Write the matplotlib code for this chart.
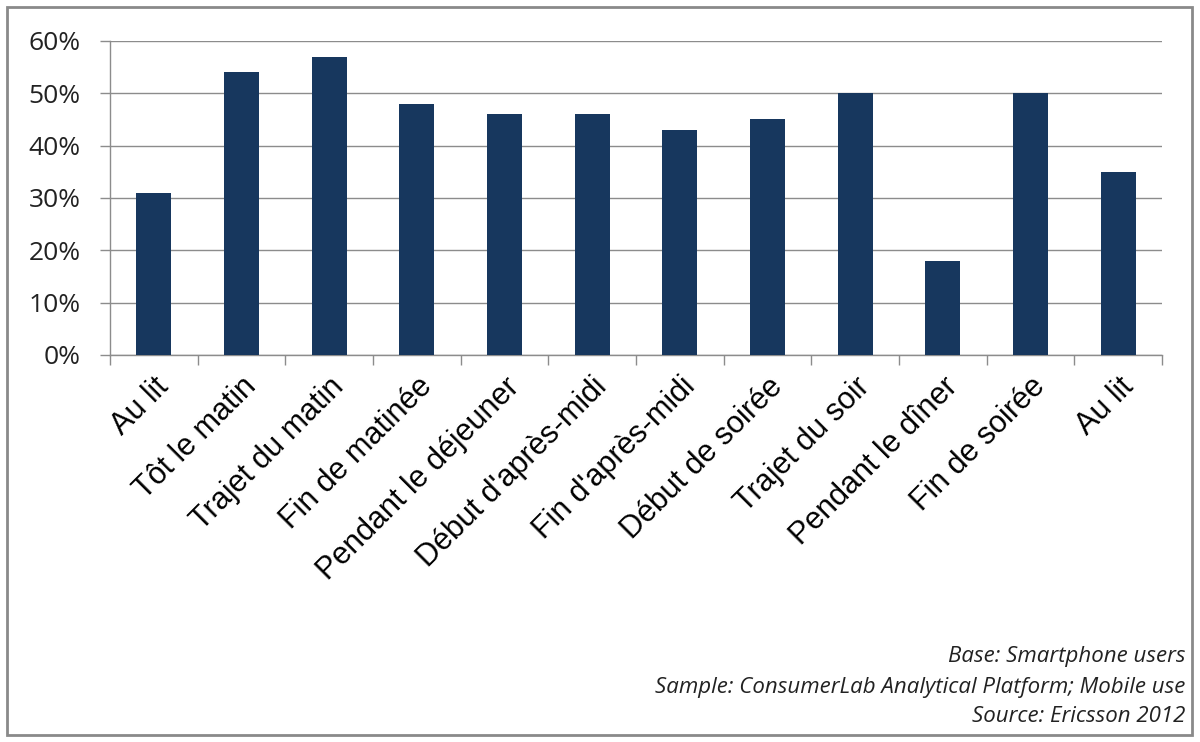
import matplotlib.pyplot as plt
from matplotlib.patches import Rectangle
import numpy as np

categories = ["Au lit", "Tôt le matin", "Trajet du matin", "Fin de matinée",
              "Pendant le déjeuner", "Début d'après-midi", "Fin d'après-midi",
              "Début de soirée", "Trajet du soir", "Pendant le dîner",
              "Fin de soirée", "Au lit"]
values = [31, 54, 57, 48, 46, 46, 43, 45, 50, 18, 50, 35]
yticks = [0, 10, 20, 30, 40, 50, 60]
notes = ["Base: Smartphone users",
         "Sample: ConsumerLab Analytical Platform; Mobile use",
         "Source: Ericsson 2012"]

fig = plt.figure(figsize=(12, 7.42), dpi=100)
ax = fig.add_axes([0.0917, 0.5216, 0.8766, 0.4232])

x = np.arange(len(categories))
ax.bar(x, values, width=0.4, color="#17375e", zorder=3)

ax.set_xlim(-0.5, len(categories) - 0.5)
ax.set_ylim(0, 60)
ax.set_yticks(yticks)
ax.set_yticklabels([f"{v}%" for v in yticks], fontsize=19, family="Open Sans",
                   color="#222222")
ax.yaxis.grid(True, color="#8c8c8c", linewidth=1, zorder=0)

ax.set_xticks(x)
ax.set_xticklabels(categories, rotation=45, ha="right", va="top",
                   rotation_mode="anchor", fontsize=22, family="Liberation Sans")
ax.tick_params(axis="x", length=0, pad=12)
ax.set_xticks(np.arange(-0.5, len(categories), 1), minor=True)
ax.tick_params(axis="x", which="minor", length=7, color="#8c8c8c", width=1)
ax.tick_params(axis="y", length=7, color="#8c8c8c", width=1, pad=14)

for s in ["top", "right"]:
    ax.spines[s].set_visible(False)
for s in ["left", "bottom"]:
    ax.spines[s].set_color("#8c8c8c")
    ax.spines[s].set_linewidth(1)

# footnotes bottom right
ys = [0.1146, 0.0728, 0.035]
for t, yy in zip(notes, ys):
    fig.text(0.988, yy, t, ha="right", va="center", fontsize=16,
             style="italic", family="Open Sans", color="#222222")

# outer frame
fig.patches.append(Rectangle((7 / 1200, 7 / 742), 1185 / 1200, 728 / 742,
                             transform=fig.transFigure, fill=False,
                             edgecolor="#8a8a8a", linewidth=2))

plt.savefig("out.png", dpi=100)
plt.close()
